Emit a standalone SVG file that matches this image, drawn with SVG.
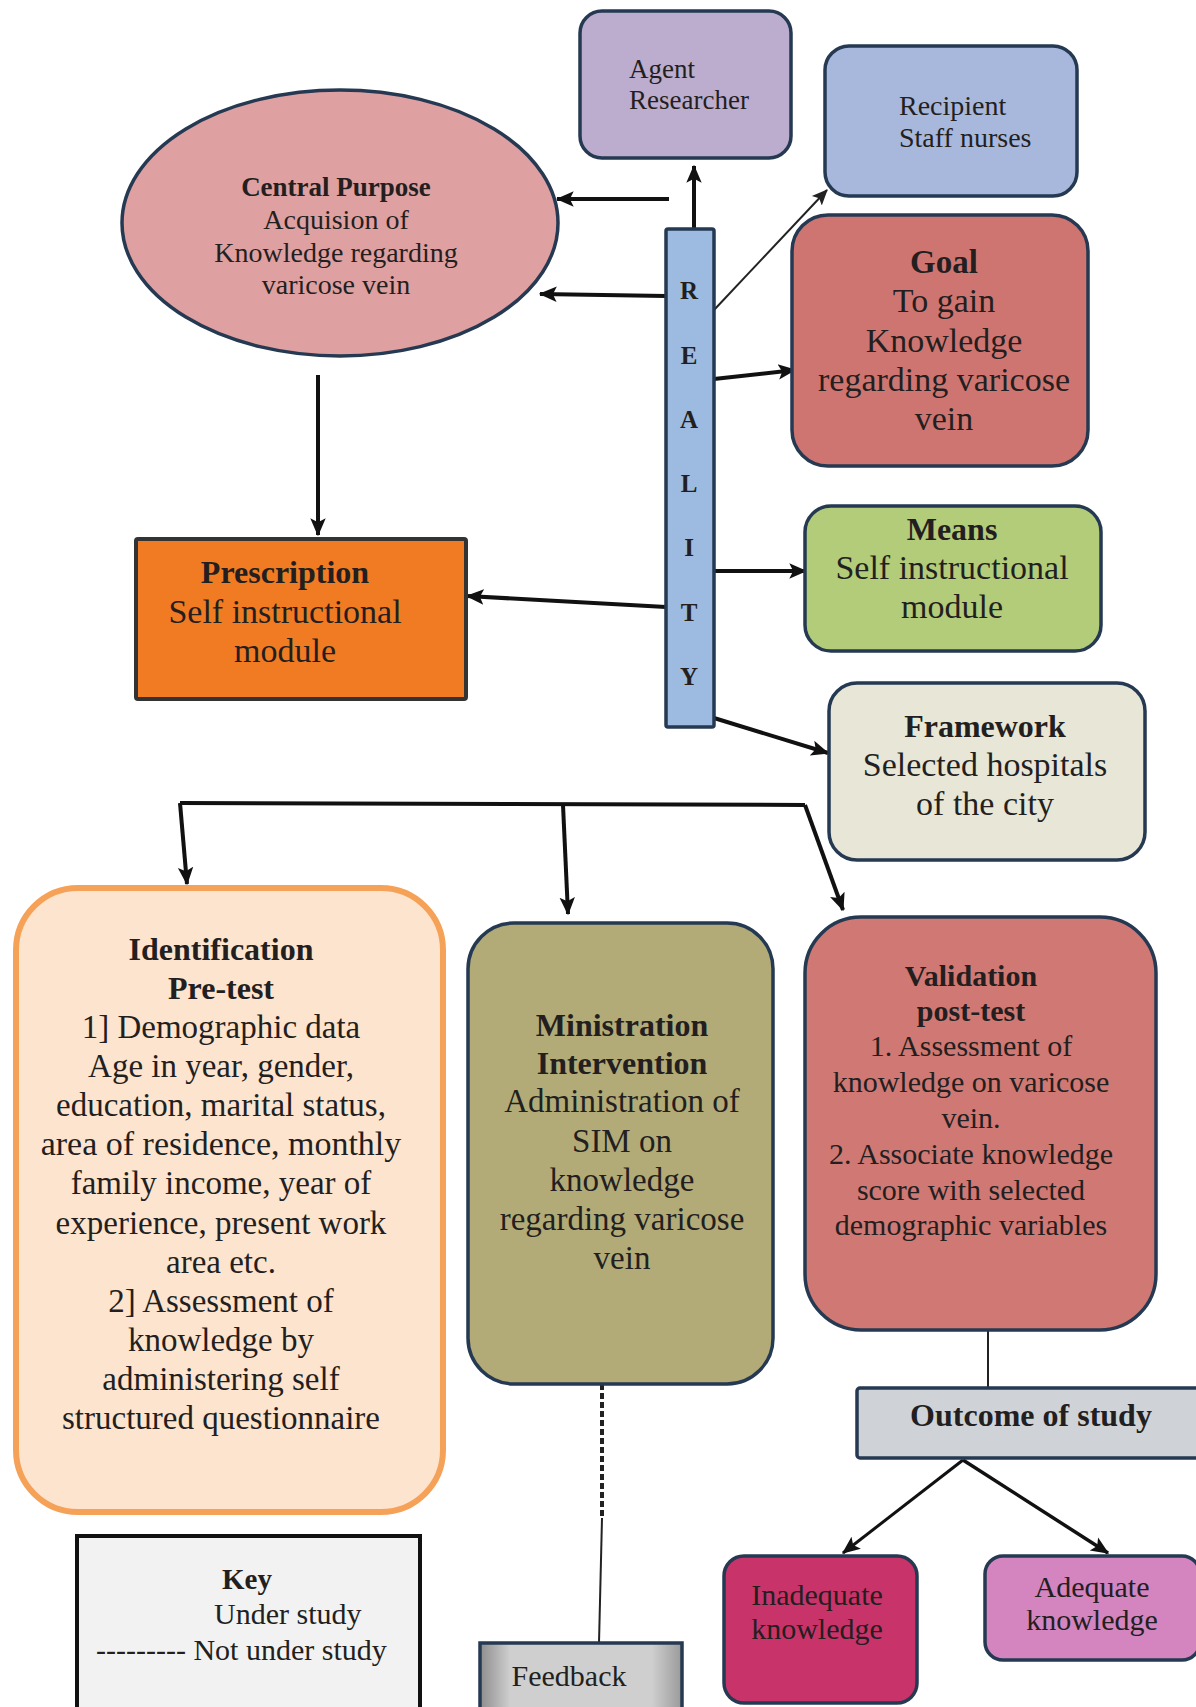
<svg xmlns="http://www.w3.org/2000/svg" width="1196" height="1707" viewBox="0 0 1196 1707">
<style>
text{font-family:"Liberation Serif","Times New Roman",serif;fill:#231f20;text-anchor:middle}
.b{font-weight:bold}
.st{text-anchor:start}
.node{stroke:#253a52;stroke-width:3.5}
.con{fill:none;stroke:#111;stroke-width:4}
.thin{fill:none;stroke:#222;stroke-width:2}
</style>
<defs>
<marker id="ah" viewBox="0 0 14 14" refX="13" refY="7" markerWidth="18" markerHeight="18" markerUnits="userSpaceOnUse" orient="auto">
<path d="M0,1 L14,7 L0,13 L3,7 Z" fill="#111"/>
</marker>
<marker id="ahs" viewBox="0 0 14 14" refX="13" refY="7" markerWidth="16" markerHeight="16" markerUnits="userSpaceOnUse" orient="auto">
<path d="M0,1 L14,7 L0,13 L3,7 Z" fill="#222"/>
</marker>
<linearGradient id="fb" x1="0" y1="0" x2="1" y2="0">
<stop offset="0" stop-color="#8d8d8d"/>
<stop offset="0.15" stop-color="#cfcfcf"/>
<stop offset="0.85" stop-color="#cfcfcf"/>
<stop offset="1" stop-color="#9a9a9a"/>
</linearGradient>
</defs>
<rect width="1196" height="1707" fill="#fff"/>

<g id="connectors">
<path class="con" d="M669,199 L557,199" marker-end="url(#ah)"/>
<path class="con" d="M666,296 L540,294" marker-end="url(#ah)"/>
<path class="con" d="M694,229 L694,166" marker-end="url(#ah)"/>
<path class="thin" d="M714,310 L827,190" marker-end="url(#ahs)"/>
<path class="con" d="M714,379 L795,370" marker-end="url(#ah)"/>
<path class="con" d="M714,571 L806,571" marker-end="url(#ah)"/>
<path class="con" d="M714,718 L828,753" marker-end="url(#ah)"/>
<path class="con" d="M666,607 L467,596" marker-end="url(#ah)"/>
<path class="con" d="M318,375 L318,535" marker-end="url(#ah)"/>
<path class="con" d="M180,803 L805,805"/>
<path class="con" d="M180,803 L187,884" marker-end="url(#ah)"/>
<path class="con" d="M563,805 L568,914" marker-end="url(#ah)"/>
<path class="con" d="M805,805 L843,910" marker-end="url(#ah)"/>
<path class="thin" d="M988,1330 L988,1388"/>
<path class="con" style="stroke-width:3" d="M963,1460 L843,1553" marker-end="url(#ah)"/>
<path class="con" style="stroke-width:3.5" d="M963,1460 L1108,1553" marker-end="url(#ah)"/>
<path fill="none" stroke="#222" stroke-width="4" stroke-dasharray="6,3" d="M602,1384 L602,1518"/>
<path class="thin" d="M602,1518 L599,1643"/>
</g>

<g id="agent">
<rect class="node" x="580" y="11" width="211" height="147" rx="22" fill="#bcaccd"/>
<text class="st" x="629" y="78" font-size="27">Agent</text>
<text class="st" x="629" y="109" font-size="27">Researcher</text>
</g>

<g id="recipient">
<rect class="node" x="825" y="46" width="252" height="150" rx="24" fill="#a8b8dc"/>
<text class="st" x="899" y="115" font-size="28">Recipient</text>
<text class="st" x="899" y="147" font-size="28">Staff nurses</text>
</g>

<g id="central-purpose">
<ellipse class="node" cx="340" cy="223" rx="218" ry="133" fill="#dfa0a1"/>
<text class="b" x="336" y="196" font-size="27">Central Purpose</text>
<text x="336" y="229" font-size="28">Acquision of</text>
<text x="336" y="262" font-size="28">Knowledge regarding</text>
<text x="336" y="294" font-size="28">varicose vein</text>
</g>

<g id="reality">
<rect class="node" x="666" y="229" width="48" height="498" rx="2" fill="#9dbbe0"/>
<text class="b" x="689" y="299" font-size="25">R</text>
<text class="b" x="689" y="364" font-size="25">E</text>
<text class="b" x="689" y="428" font-size="25">A</text>
<text class="b" x="689" y="492" font-size="25">L</text>
<text class="b" x="689" y="556" font-size="25">I</text>
<text class="b" x="689" y="621" font-size="25">T</text>
<text class="b" x="689" y="685" font-size="25">Y</text>
</g>

<g id="goal">
<rect class="node" x="792" y="215" width="296" height="251" rx="36" fill="#cf7571"/>
<text class="b" x="944" y="273" font-size="33">Goal</text>
<text x="944" y="312" font-size="34">To gain</text>
<text x="944" y="352" font-size="34">Knowledge</text>
<text x="944" y="391" font-size="34">regarding varicose</text>
<text x="944" y="430" font-size="34">vein</text>
</g>

<g id="means">
<rect class="node" x="805" y="506" width="296" height="145" rx="26" fill="#b3cc79"/>
<text class="b" x="952" y="540" font-size="32">Means</text>
<text x="952" y="579" font-size="34">Self instructional</text>
<text x="952" y="618" font-size="34">module</text>
</g>

<g id="framework">
<rect class="node" x="829" y="683" width="316" height="177" rx="28" fill="#e8e6d7"/>
<text class="b" x="985" y="737" font-size="32">Framework</text>
<text x="985" y="776" font-size="34">Selected hospitals</text>
<text x="985" y="815" font-size="34">of the city</text>
</g>

<g id="prescription">
<rect x="136" y="539" width="330" height="160" rx="2" fill="#f07b22" stroke="#333" stroke-width="4"/>
<text class="b" x="285" y="583" font-size="32">Prescription</text>
<text x="285" y="623" font-size="34">Self instructional</text>
<text x="285" y="662" font-size="34">module</text>
</g>

<g id="identification">
<rect x="16" y="888" width="427" height="624" rx="62" fill="#fde4cf" stroke="#f5a258" stroke-width="6"/>
<text class="b" x="221" y="960" font-size="32">Identification</text>
<text class="b" x="221" y="999" font-size="32">Pre-test</text>
<text x="221" y="1038" font-size="33">1] Demographic data</text>
<text x="221" y="1077" font-size="33">Age in year, gender,</text>
<text x="221" y="1116" font-size="33">education, marital status,</text>
<text x="221" y="1155" font-size="34">area of residence, monthly</text>
<text x="221" y="1194" font-size="33">family income, year of</text>
<text x="221" y="1234" font-size="33">experience, present work</text>
<text x="221" y="1273" font-size="33">area etc.</text>
<text x="221" y="1312" font-size="33">2] Assessment of</text>
<text x="221" y="1351" font-size="33">knowledge by</text>
<text x="221" y="1390" font-size="33">administering self</text>
<text x="221" y="1429" font-size="33">structured questionnaire</text>
</g>

<g id="ministration">
<rect class="node" x="468" y="923" width="305" height="461" rx="46" fill="#b2ab78"/>
<text class="b" x="622" y="1036" font-size="32">Ministration</text>
<text class="b" x="622" y="1074" font-size="32">Intervention</text>
<text x="622" y="1112" font-size="33">Administration of</text>
<text x="622" y="1152" font-size="33">SIM on</text>
<text x="622" y="1191" font-size="33">knowledge</text>
<text x="622" y="1230" font-size="33">regarding varicose</text>
<text x="622" y="1269" font-size="33">vein</text>
</g>

<g id="validation">
<rect class="node" x="805" y="917" width="351" height="413" rx="56" fill="#d07873"/>
<text class="b" x="971" y="986" font-size="30">Validation</text>
<text class="b" x="971" y="1021" font-size="30">post-test</text>
<text x="971" y="1056" font-size="30">1. Assessment of</text>
<text x="971" y="1092" font-size="30">knowledge on varicose</text>
<text x="971" y="1128" font-size="30">vein.</text>
<text x="971" y="1164" font-size="30">2. Associate knowledge</text>
<text x="971" y="1200" font-size="30">score with selected</text>
<text x="971" y="1235" font-size="30">demographic variables</text>
</g>

<g id="outcome">
<rect class="node" x="857" y="1388" width="345" height="70" rx="3" fill="#cfd3d8"/>
<text class="b" x="1031" y="1426" font-size="32">Outcome of study</text>
</g>

<g id="inadequate">
<rect class="node" x="724" y="1556" width="193" height="147" rx="20" fill="#c8336a"/>
<text x="817" y="1605" font-size="30">Inadequate</text>
<text x="817" y="1639" font-size="30">knowledge</text>
</g>

<g id="adequate">
<rect class="node" x="985" y="1556" width="215" height="104" rx="18" fill="#d485c0"/>
<text x="1092" y="1597" font-size="30">Adequate</text>
<text x="1092" y="1630" font-size="30">knowledge</text>
</g>

<g id="key">
<rect x="77" y="1536" width="343" height="190" fill="#f2f2f2" stroke="#111" stroke-width="4"/>
<text class="b" x="247" y="1589" font-size="29">Key</text>
<text class="st" x="214" y="1624" font-size="30">Under study</text>
<text class="st" x="96" y="1660" font-size="30">--------- Not under study</text>
</g>

<g id="feedback">
<rect class="node" x="480" y="1643" width="202" height="80" fill="url(#fb)"/>
<text x="569" y="1686" font-size="30">Feedback</text>
</g>
</svg>
